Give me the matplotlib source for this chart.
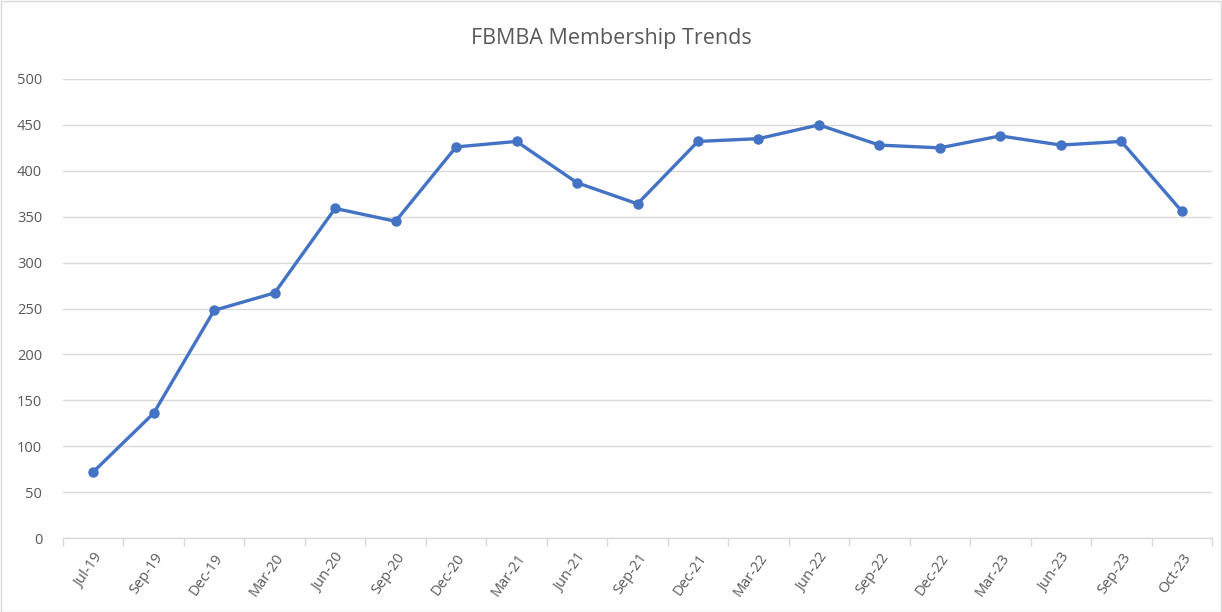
import numpy as np
import matplotlib
matplotlib.use("Agg")
import matplotlib.pyplot as plt
from matplotlib.patches import Rectangle

plt.rcParams['font.family'] = ['Open Sans', 'DejaVu Sans']

months = ['Jul-19', 'Sep-19', 'Dec-19', 'Mar-20', 'Jun-20', 'Sep-20', 'Dec-20',
          'Mar-21', 'Jun-21', 'Sep-21', 'Dec-21', 'Mar-22', 'Jun-22', 'Sep-22',
          'Dec-22', 'Mar-23', 'Jun-23', 'Sep-23', 'Oct-23']
members = [72, 136, 248, 267, 359, 345, 426, 432, 387, 364, 432, 435, 450,
           428, 425, 438, 428, 432, 356]

line_col = '#4472C4'
grid_col = '#D9D9D9'
text_col = '#595959'

fig = plt.figure(figsize=(12.22, 6.12), dpi=100)
ax = fig.add_axes([63/1222, 74/612, (1212-63)/1222, (538-79)/612])

x = np.arange(len(months))
ax.plot(x, members, color=line_col, lw=2.4, marker='o', ms=6.5, zorder=3)

ax.set_xlim(-0.5, len(months) - 0.5)
ax.set_ylim(0, 500)
ax.set_yticks(np.arange(0, 501, 50))
ax.yaxis.grid(True, color=grid_col, lw=1)
ax.set_axisbelow(True)
for s in ['top', 'right', 'left']:
    ax.spines[s].set_visible(False)
ax.spines['bottom'].set_color(grid_col)
ax.spines['bottom'].set_linewidth(1)

# ticks at category boundaries
ax.set_xticks(np.arange(-0.5, len(months), 1))
ax.set_xticklabels([])
ax.set_xticks(x, minor=True)
ax.set_xticklabels(months, minor=True, rotation=55, ha='right', rotation_mode='anchor',
                   fontsize=10.5, color=text_col)
ax.tick_params(axis='x', which='major', length=6, color=grid_col, width=1)
ax.tick_params(axis='x', which='minor', length=0, pad=9)
ax.tick_params(axis='y', length=0, labelsize=10.5, labelcolor=text_col, pad=15)

fig.text(0.5, 0.937, 'FBMBA Membership Trends', ha='center', va='center',
         fontsize=15.5, color=text_col)

fig.patches.append(Rectangle((0.5/1222, 0.5/612), 1 - 1.5/1222, 1 - 1.5/612,
                             transform=fig.transFigure, fill=False,
                             edgecolor='#D9D9D9', lw=1))

fig.savefig('out.png', dpi=100)
